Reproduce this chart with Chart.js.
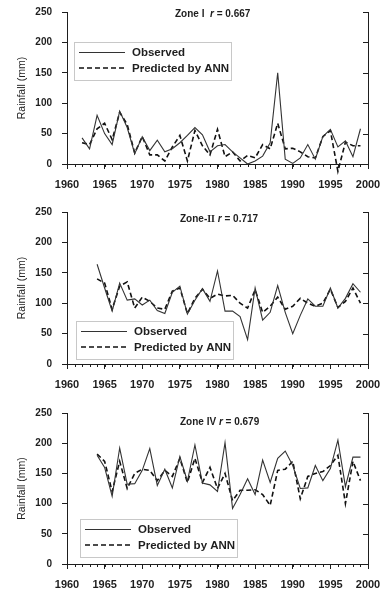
<!DOCTYPE html>
<html><head><meta charset="utf-8">
<script src="https://cdn.jsdelivr.net/npm/chart.js@4.4.1/dist/chart.umd.min.js"></script>
<style>
body{margin:0;background:#fff;width:380px;height:594px;overflow:hidden;position:relative}
.panel{position:absolute;left:0;width:380px;height:198px}
</style></head><body>
<div class="panel" style="top:0"><canvas id="c1"></canvas></div>
<div class="panel" style="top:198px"><canvas id="c2"></canvas></div>
<div class="panel" style="top:396px"><canvas id="c3"></canvas></div>
<script>
// y ticks shared by all three panels
const yTicks = [0, 50, 100, 150, 200, 250];

// Zone I
const years1 = [1962,1963,1964,1965,1966,1967,1968,1969,1970,1971,1972,1973,1974,1975,1976,1977,1978,1979,1980,
  1981,1982,1983,1984,1985,1986,1987,1988,1989,1990,1991,1992,1993,1994,1995,1996,1997,1998,1999];
const obs1 = [43,25,80,50,32,87,60,17,45,22,39,20,25,35,47,60,48,20,30,32,20,10,0,5,13,35,150,8,1,10,32,8,45,57,28,38,12,58];
const ann1 = [35,32,58,67,40,85,65,18,45,15,15,5,28,47,5,55,30,15,57,12,20,5,14,10,32,25,67,25,26,20,12,10,45,55,-12,36,30,30];

// Zone II
const years2 = [1964,1965,1966,1967,1968,1969,1970,1971,1972,1973,1974,1975,1976,1977,1978,1979,1980,
  1981,1982,1983,1984,1985,1986,1987,1988,1989,1990,1991,1992,1993,1994,1995,1996,1997,1998,1999];
const obs2 = [164,125,87,133,105,107,97,105,88,83,118,128,82,105,124,103,153,87,87,78,40,125,72,85,129,85,50,80,107,95,95,125,92,108,132,118];
const ann2 = [140,133,90,128,135,92,110,103,92,90,120,125,83,108,123,108,115,112,113,100,92,122,85,95,110,90,95,108,100,95,100,123,93,103,125,100];

// Zone IV
const years4 = [1964,1965,1966,1967,1968,1969,1970,1971,1972,1973,1974,1975,1976,1977,1978,1979,1980,
  1981,1982,1983,1984,1985,1986,1987,1988,1989,1990,1991,1992,1993,1994,1995,1996,1997,1998,1999];
const obs4 = [180,160,112,192,132,133,155,191,130,157,126,178,137,197,134,131,120,201,92,115,141,115,172,135,175,187,163,125,126,163,138,158,205,128,177,177];
const ann4 = [182,170,120,170,125,150,157,155,138,155,145,175,135,175,135,160,125,150,105,122,122,123,115,97,155,157,170,108,145,150,153,163,180,100,170,138];

const FONT = 'Liberation Sans, Arial, sans-serif';
const INK = '#1e1e1e';

// right axis, minor year ticks, in-plot title and boxed legend
const extras = {
  id: 'extras',
  afterDraw(chart, args, o) {
    const {ctx, chartArea: a, scales: {x, y}} = chart;
    ctx.save();
    ctx.strokeStyle = INK;
    ctx.lineWidth = 1;
    ctx.setLineDash([]);
    ctx.beginPath();
    ctx.moveTo(a.right + 0.5, a.top);
    ctx.lineTo(a.right + 0.5, a.bottom);
    yTicks.forEach(v => {
      const py = Math.round(y.getPixelForValue(v)) + 0.5;
      ctx.moveTo(a.right, py);
      ctx.lineTo(a.right - 5, py);
    });
    for (let yr = 1960; yr <= 2000; yr++) {
      const px = Math.round(x.getPixelForValue(yr)) + 0.5;
      ctx.moveTo(px, a.bottom);
      ctx.lineTo(px, a.bottom + 3);
    }
    ctx.stroke();

    // title
    ctx.fillStyle = INK;
    ctx.textBaseline = 'middle';
    ctx.textAlign = 'left';
    let tx = a.left + o.tx;
    const ty = a.top + o.ty;
    o.title.forEach(part => {
      ctx.font = part[1];
      ctx.fillText(part[0], tx, ty);
      tx += ctx.measureText(part[0]).width;
    });

    // legend
    const lx = a.left + o.lx, ly = a.top + o.ly;
    ctx.strokeStyle = '#c8c8c8';
    ctx.strokeRect(lx + 0.5, ly + 0.5, 157, 38);
    ctx.font = 'bold 11.5px ' + FONT;
    chart.data.datasets.forEach((ds, i) => {
      const ry = ly + (i ? 26 : 10.5);
      ctx.strokeStyle = ds.borderColor;
      ctx.lineWidth = ds.borderWidth;
      ctx.setLineDash(ds.borderDash || []);
      ctx.beginPath();
      ctx.moveTo(lx + 5, ry);
      ctx.lineTo(lx + 51, ry);
      ctx.stroke();
      ctx.fillText(ds.label, lx + 58, ry + 0.5);
    });
    ctx.restore();
  }
};

function pts(years, vals) {
  return years.map((yr, i) => ({x: yr, y: vals[i]}));
}

function makeChart(id, years, obs, ann, p) {
  return new Chart(document.getElementById(id), {
    type: 'line',
    data: {
      datasets: [
        {label: 'Observed', data: pts(years, obs), borderColor: '#333', borderWidth: 1.1,
         pointRadius: 0, tension: 0, clip: false},
        {label: 'Predicted by ANN', data: pts(years, ann), borderColor: '#111', borderWidth: 1.6,
         borderDash: [5, 3], pointRadius: 0, tension: 0, clip: false}
      ]
    },
    options: {
      responsive: true,
      maintainAspectRatio: false,
      animation: false,
      layout: {padding: {top: p.top, right: 12, left: 0, bottom: 0}},
      plugins: {legend: {display: false}, tooltip: {enabled: false}, extras: p},
      scales: {
        x: {
          type: 'linear', min: 1960, max: 2000,
          afterFit(s) { s.height = p.axisH; s.paddingLeft = 0; s.paddingRight = 0; },
          grid: {drawOnChartArea: false, tickLength: 5, color: INK},
          border: {color: INK, width: 1},
          ticks: {stepSize: 5, autoSkip: false, maxRotation: 0, padding: 9, color: INK,
                  font: {family: FONT, size: 11, weight: 'bold'}, callback: v => String(v)}
        },
        y: {
          min: 0, max: 250,
          afterFit(s) { s.width = 67; s.paddingTop = 0; s.paddingBottom = 0; },
          grid: {drawOnChartArea: false, tickLength: 5, color: INK},
          border: {color: INK, width: 1},
          ticks: {stepSize: 50, padding: 10, color: INK, font: {family: FONT, size: 10, weight: 'bold'}},
          title: {display: true, text: 'Rainfall (mm)', color: '#222', padding: {top: 16, bottom: 0},
                  font: {family: FONT, size: 10.5}}
        }
      }
    },
    plugins: [extras]
  });
}

const B = 'bold 10px ' + FONT, BI = 'italic bold 10px ' + FONT;

makeChart('c1', years1, obs1, ann1, {top: 12, axisH: 34, lx: 7, ly: 30, tx: 108, ty: 2.7,
  title: [['Zone I  ', B], ['r', BI], [' = 0.667', B]]});
makeChart('c2', years2, obs2, ann2, {top: 14, axisH: 32, lx: 9, ly: 109, tx: 113, ty: 7,
  title: [['Zone-', B], ['II', 'bold 10px Liberation Serif, serif'], [' ', B], ['r', BI], [' = 0.717', B]]});
makeChart('c3', years4, obs4, ann4, {top: 17, axisH: 30, lx: 13, ly: 106, tx: 113, ty: 9.3,
  title: [['Zone IV ', B], ['r', BI], [' = 0.679', B]]});
</script>
</body></html>
